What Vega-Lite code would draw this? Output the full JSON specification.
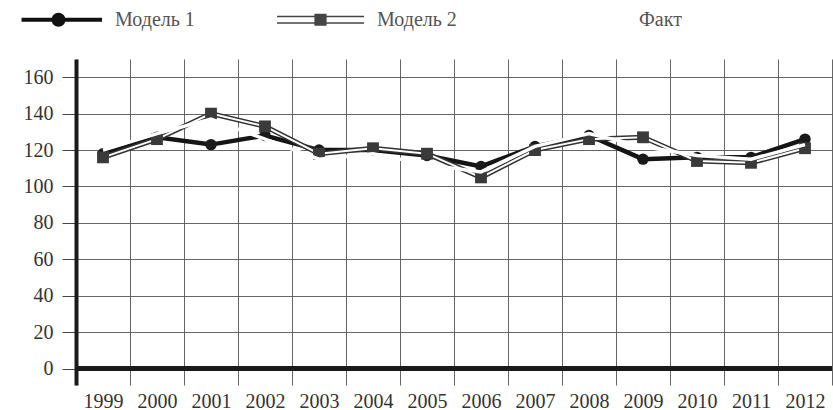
{
  "$schema": "https://vega.github.io/schema/vega-lite/v6.json",
  "autosize": {"type": "none"},
  "width": 756,
  "height": 326,
  "padding": {"left": 76, "top": 59, "right": 1, "bottom": 25},
  "background": "#ffffff",
  "config": {
    "view": {"stroke": null},
    "font": "Liberation Serif"
  },
  "data": {
    "values": [
      {"year": "1999", "series": "Модель 1", "value": 118},
      {"year": "2000", "series": "Модель 1", "value": 127},
      {"year": "2001", "series": "Модель 1", "value": 123},
      {"year": "2002", "series": "Модель 1", "value": 128},
      {"year": "2003", "series": "Модель 1", "value": 120},
      {"year": "2004", "series": "Модель 1", "value": 120},
      {"year": "2005", "series": "Модель 1", "value": 117},
      {"year": "2006", "series": "Модель 1", "value": 111},
      {"year": "2007", "series": "Модель 1", "value": 122},
      {"year": "2008", "series": "Модель 1", "value": 128},
      {"year": "2009", "series": "Модель 1", "value": 115},
      {"year": "2010", "series": "Модель 1", "value": 116},
      {"year": "2011", "series": "Модель 1", "value": 116},
      {"year": "2012", "series": "Модель 1", "value": 126},
      {"year": "1999", "series": "Модель 2", "value": 116},
      {"year": "2000", "series": "Модель 2", "value": 126},
      {"year": "2001", "series": "Модель 2", "value": 140},
      {"year": "2002", "series": "Модель 2", "value": 133},
      {"year": "2003", "series": "Модель 2", "value": 118},
      {"year": "2004", "series": "Модель 2", "value": 121},
      {"year": "2005", "series": "Модель 2", "value": 118},
      {"year": "2006", "series": "Модель 2", "value": 105},
      {"year": "2007", "series": "Модель 2", "value": 120},
      {"year": "2008", "series": "Модель 2", "value": 126},
      {"year": "2009", "series": "Модель 2", "value": 127},
      {"year": "2010", "series": "Модель 2", "value": 114},
      {"year": "2011", "series": "Модель 2", "value": 113},
      {"year": "2012", "series": "Модель 2", "value": 121},
      {"year": "1999", "series": "Факт", "value": 120},
      {"year": "2000", "series": "Факт", "value": 129},
      {"year": "2001", "series": "Факт", "value": 137},
      {"year": "2002", "series": "Факт", "value": 126},
      {"year": "2003", "series": "Факт", "value": 115},
      {"year": "2004", "series": "Факт", "value": 118},
      {"year": "2005", "series": "Факт", "value": 112},
      {"year": "2006", "series": "Факт", "value": 108},
      {"year": "2007", "series": "Факт", "value": 122},
      {"year": "2008", "series": "Факт", "value": 129},
      {"year": "2009", "series": "Факт", "value": 122},
      {"year": "2010", "series": "Факт", "value": 117},
      {"year": "2011", "series": "Факт", "value": 115},
      {"year": "2012", "series": "Факт", "value": 123}
    ]
  },
  "encoding": {
    "x": {
      "field": "year", "type": "nominal", "sort": null,
      "scale": {"paddingInner": 0, "paddingOuter": 0},
      "axis": {
        "title": null, "labelAngle": 0, "domain": false, "ticks": false,
        "grid": true, "tickBand": "extent", "gridColor": "#555", "gridWidth": 1, "gridOpacity": 0.9,
        "labelFont": "Liberation Serif", "labelFontSize": 20, "labelColor": "#333", "labelPadding": 6
      }
    },
    "y": {
      "field": "value", "type": "quantitative",
      "scale": {"domain": [-9, 170], "nice": false, "zero": false},
      "axis": {
        "title": null, "values": [0, 20, 40, 60, 80, 100, 120, 140, 160],
        "domain": true, "domainColor": "#1a1a1a", "domainWidth": 4,
        "ticks": true, "tickSize": 14, "tickColor": "#444", "tickWidth": 1,
        "grid": true, "gridColor": "#555", "gridWidth": 1, "gridOpacity": 0.9,
        "labelFont": "Liberation Serif", "labelFontSize": 20, "labelColor": "#333", "labelPadding": 9
      }
    }
  },
  "layer": [
    {
      "transform": [{"filter": "datum.series === 'Модель 1'"}],
      "mark": {"type": "line", "stroke": "#151515", "strokeWidth": 4.5}
    },
    {
      "transform": [{"filter": "datum.series === 'Модель 2'"}],
      "mark": {"type": "line", "stroke": "#333", "strokeWidth": 5}
    },
    {
      "transform": [{"filter": "datum.series === 'Модель 2'"}],
      "mark": {"type": "line", "stroke": "#ffffff", "strokeWidth": 2}
    },
    {
      "transform": [{"filter": "datum.series === 'Модель 1'"}],
      "mark": {"type": "point", "shape": "circle", "filled": true, "size": 130, "color": "#1a1a1a", "opacity": 1}
    },
    {
      "transform": [{"filter": "datum.series === 'Модель 2'"}],
      "mark": {"type": "point", "shape": "square", "filled": true, "size": 140, "color": "#3a3a3a", "opacity": 1}
    },
    {
      "transform": [{"filter": "datum.series === 'Факт'"}],
      "mark": {"type": "line", "stroke": "#ffffff", "strokeWidth": 3.5}
    },
    {
      "mark": {"type": "point", "filled": true, "opacity": 0},
      "encoding": {
        "color": {
          "field": "series", "type": "nominal",
          "scale": {"domain": ["Модель 1", "Модель 2", "Факт"], "range": ["#111111", "#444444", "#ffffff"]},
          "legend": {
            "title": null, "orient": "none", "legendX": -61, "legendY": -83,
            "direction": "horizontal", "gridAlign": "all", "columnPadding": 82,
            "symbolSize": 7569, "symbolStrokeWidth": 0, "symbolOpacity": 1,
            "labelOffset": 13, "labelFont": "Liberation Serif", "labelFontSize": 20, "labelColor": "#555"
          }
        },
        "shape": {
          "field": "series", "type": "nominal",
          "scale": {
            "domain": ["Модель 1", "Модель 2", "Факт"],
            "range": [
              "M-0.85,-0.045H1V0.045H-0.85ZM0.16,0A0.16,0.16 0 1,1 -0.16,0A0.16,0.16 0 1,1 0.16,0Z",
              "M-1,-0.09H1V-0.06H-1ZM-1,0.06H1V0.09H-1ZM-0.14,-0.14H0.14V0.14H-0.14Z",
              "M-1,-0.03H1V0.03H-1Z"
            ]
          },
          "legend": {
            "title": null, "orient": "none", "legendX": -61, "legendY": -83,
            "direction": "horizontal", "gridAlign": "all", "columnPadding": 82,
            "symbolSize": 7569, "symbolStrokeWidth": 0, "symbolOpacity": 1,
            "labelOffset": 13, "labelFont": "Liberation Serif", "labelFontSize": 20, "labelColor": "#555"
          }
        }
      }
    },
    {
      "mark": {"type": "rule", "stroke": "#1a1a1a", "strokeWidth": 4},
      "encoding": {"y": {"datum": 0}, "x": {"value": 0}, "x2": {"value": 756}}
    }
  ]
}
